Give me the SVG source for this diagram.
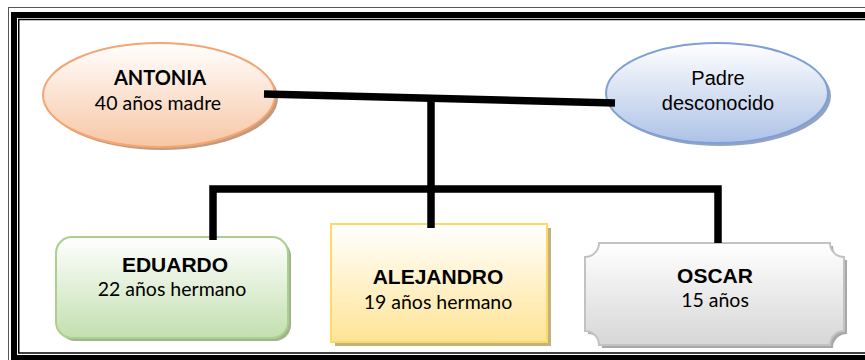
<svg xmlns="http://www.w3.org/2000/svg" width="865" height="360" viewBox="0 0 865 360">
<style>
.cal{font-family:Lato,"Open Sans","Liberation Sans",sans-serif;font-size:19.5px;fill:#000;text-anchor:middle}
.calb{font-family:Lato,"Open Sans","Liberation Sans",sans-serif;font-size:20px;font-weight:bold;fill:#000;text-anchor:middle}
.ar{font-family:"Liberation Sans",Arial,sans-serif;font-size:20px;fill:#000;text-anchor:middle}
.arb{font-family:"Liberation Sans",Arial,sans-serif;font-size:21px;font-weight:bold;fill:#000;text-anchor:middle}
.conn{stroke:#000;stroke-width:7.5;fill:none;stroke-linecap:butt}
</style>
<defs>
<linearGradient id="gOr" x1="0" y1="0" x2="0" y2="1"><stop offset="0" stop-color="#ffffff"/><stop offset="1" stop-color="#f7c6a4"/></linearGradient>
<linearGradient id="gBl" x1="0" y1="0" x2="0" y2="1"><stop offset="0" stop-color="#ffffff"/><stop offset="1" stop-color="#aec2e6"/></linearGradient>
<linearGradient id="gGr" x1="0" y1="0" x2="0" y2="1"><stop offset="0" stop-color="#ffffff"/><stop offset="1" stop-color="#c3dfb0"/></linearGradient>
<linearGradient id="gYe" x1="0" y1="0" x2="0" y2="1"><stop offset="0" stop-color="#ffffff"/><stop offset="1" stop-color="#ffe496"/></linearGradient>
<linearGradient id="gGy" x1="0" y1="0" x2="0" y2="1"><stop offset="0" stop-color="#ffffff"/><stop offset="1" stop-color="#d6d6d6"/></linearGradient>
</defs>
<rect width="865" height="360" fill="#fff"/>
<!-- frame -->
<rect x="8.5" y="7.5" width="900" height="400" fill="none" stroke="#555" stroke-width="1"/>
<rect x="14" y="15" width="900" height="343" fill="none" stroke="#000" stroke-width="6"/>
<rect x="18.75" y="19.5" width="900" height="333.5" fill="none" stroke="#000" stroke-width="1.5"/>

<g id="antonia">
<ellipse cx="162" cy="98" rx="116" ry="52" fill="#c49a7e"/>
<ellipse cx="159" cy="95" rx="116" ry="52" fill="url(#gOr)" stroke="#f4a573" stroke-width="2"/>
<text class="calb" x="160" y="85">ANTONIA</text>
<text class="cal" x="158" y="110">40 años madre</text>
</g>
<g id="padre">
<ellipse cx="720" cy="96" rx="111" ry="50" fill="#93a3c0"/>
<ellipse cx="717" cy="93" rx="111" ry="50" fill="url(#gBl)" stroke="#7f9fd8" stroke-width="2"/>
<text class="ar" x="718" y="85">Padre</text>
<text class="ar" x="718" y="110">desconocido</text>
</g>
<g id="eduardo">
<rect x="59" y="240" width="232" height="101" rx="16" fill="#a2b48e"/>
<rect x="56" y="237" width="232" height="101" rx="16" fill="url(#gGr)" stroke="#a9d18e" stroke-width="2"/>
<text class="arb" x="175" y="272">EDUARDO</text>
<text class="cal" x="172" y="296">22 años hermano</text>
</g>
<g id="alejandro">
<rect x="335" y="228" width="216" height="118" fill="#c2b27e"/>
<rect x="331" y="224" width="216" height="118" fill="url(#gYe)" stroke="#ffd966" stroke-width="2"/>
<text class="arb" x="438" y="284">ALEJANDRO</text>
<text class="cal" x="438" y="309">19 años hermano</text>
</g>
<g id="oscar">
<path d="M602,246 H833 A14,14 0 0 0 847,260 V334 A14,14 0 0 0 833,348 H602 A14,14 0 0 0 588,334 V260 A14,14 0 0 0 602,246 Z" fill="#a8a8a8"/>
<path d="M599,243 H830 A14,14 0 0 0 844,257 V331 A14,14 0 0 0 830,345 H599 A14,14 0 0 0 585,331 V257 A14,14 0 0 0 599,243 Z" fill="url(#gGy)" stroke="#c2c2c2" stroke-width="2"/>
<text class="arb" x="715" y="283">OSCAR</text>
<text class="cal" x="715" y="307">15 años</text>
</g>
<g id="connectors">
<line class="conn" x1="264" y1="94" x2="615" y2="103"/>
<line class="conn" x1="431" y1="98" x2="431" y2="228"/>
<polyline class="conn" points="213,240 213,189 718,189 718,243"/>
</g>
</svg>
